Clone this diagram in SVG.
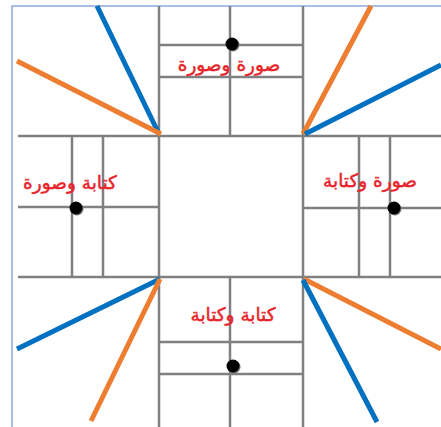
<svg xmlns="http://www.w3.org/2000/svg" width="441" height="427" viewBox="0 0 441 427">
<style>
.g{stroke:#808080;stroke-width:2.5;fill:none}
.b{stroke:#0070C0;stroke-width:5;stroke-linecap:butt}
.o{stroke:#ED7D31;stroke-width:5;stroke-linecap:butt}
.t{font-family:"DejaVu Sans",sans-serif;font-size:18.5px;fill:#E8242B;stroke:#E8242B;stroke-width:0.5;text-anchor:middle}
.frame{stroke:#8EA9DB;stroke-width:1.5;fill:none}
</style>
<defs>
<g id="dot"><circle cx="1" cy="1" r="6.5" fill="#777"/><circle cx="0" cy="0" r="6.5" fill="#000"/></g>
</defs>
<rect width="441" height="427" fill="#fff"/>
<g id="frame"><path class="frame" d="M12,427 V6 H441"/></g>
<g id="connectors">
<path class="g" d="M159,6 V427 M303,6 V427 M18,136 H441 M18,277 H441"/>
<line class="b" x1="97" y1="6" x2="159" y2="134"/>
<line class="o" x1="17" y1="61" x2="161" y2="134"/>
<line class="o" x1="371" y1="6" x2="303" y2="134"/>
<line class="b" x1="441" y1="65" x2="305" y2="134"/>
<line class="b" x1="17" y1="349" x2="160" y2="279"/>
<line class="o" x1="91" y1="421" x2="160" y2="279"/>
<line class="o" x1="441" y1="349" x2="304" y2="279"/>
<line class="b" x1="377" y1="422" x2="303" y2="280"/>
</g>
<g id="top">
<path class="g" d="M159,45 H303 M159,77 H303 M230,6 V136"/>
<use href="#dot" x="232" y="44"/>
<text class="t" x="229" y="71">صورة وصورة</text>
</g>
<g id="left">
<path class="g" d="M18,207 H159 M72,136 V277 M103,136 V277"/>
<use href="#dot" x="76" y="208"/>
<text class="t" x="70" y="189">كتابة وصورة</text>
</g>
<g id="right">
<path class="g" d="M303,208 H441 M359,136 V277 M390,136 V277"/>
<use href="#dot" x="394" y="208"/>
<text class="t" x="370" y="187">صورة وكتابة</text>
</g>
<g id="bottom">
<path class="g" d="M159,342 H303 M159,374 H303 M230,277 V427"/>
<use href="#dot" x="233" y="366"/>
<text class="t" x="233" y="321">كتابة وكتابة</text>
</g>
</svg>
